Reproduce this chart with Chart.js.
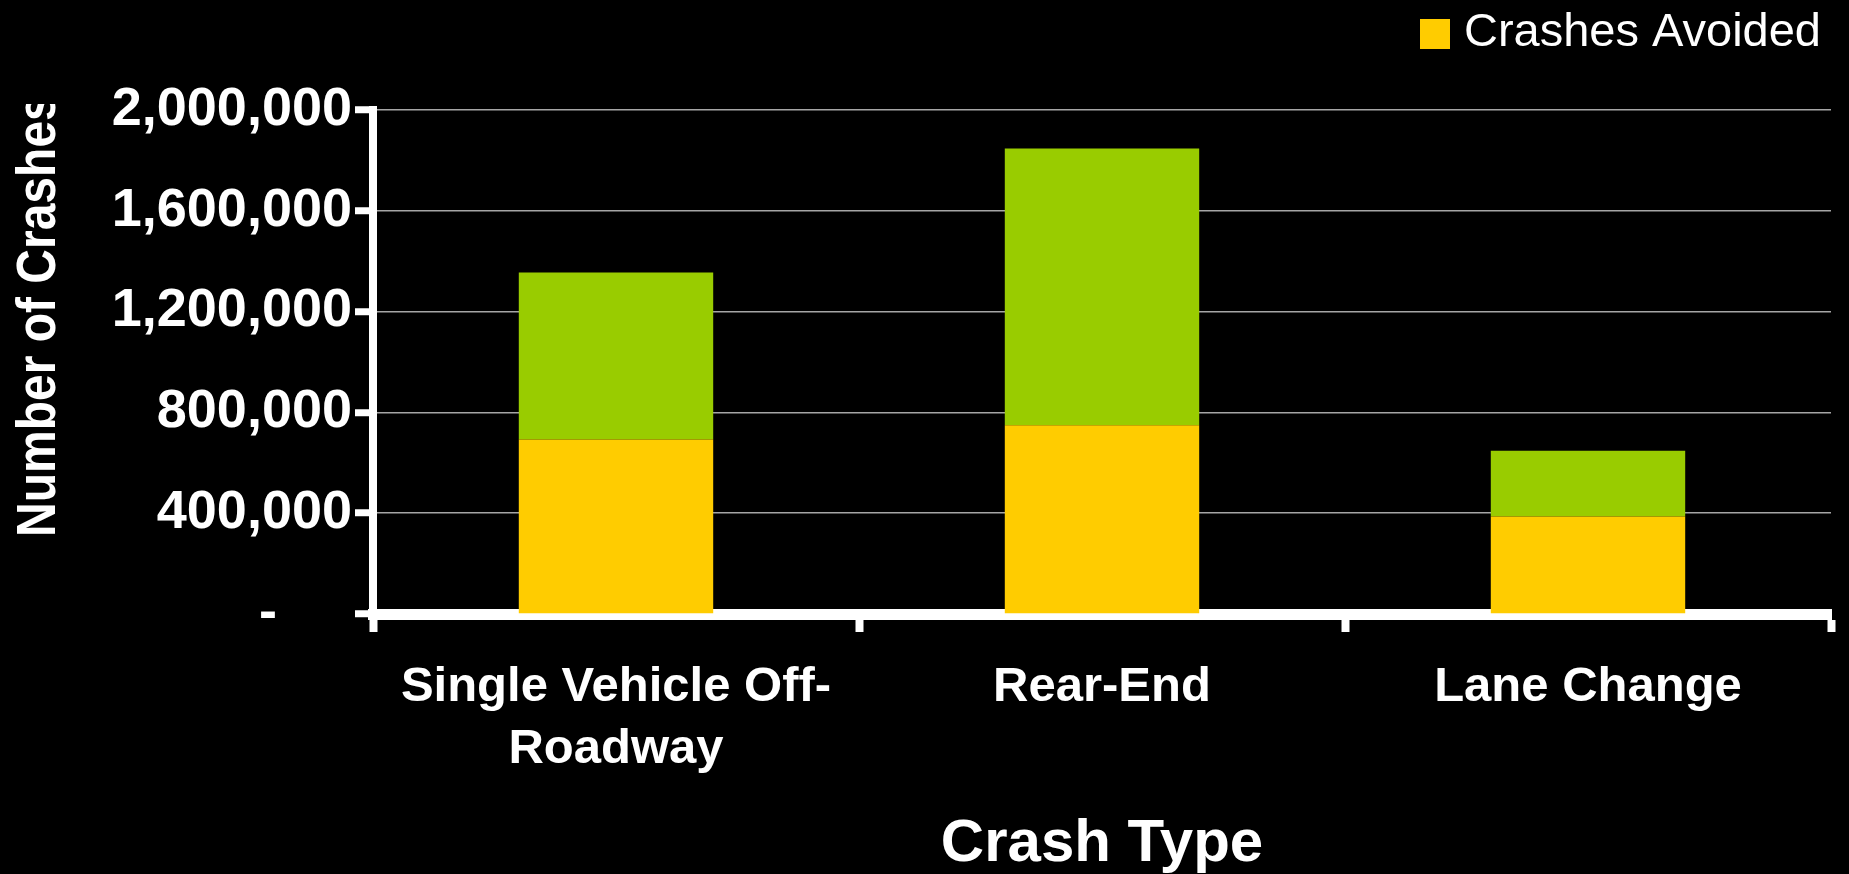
<!DOCTYPE html>
<html>
<head>
<meta charset="utf-8">
<title>Crashes Avoided by Crash Type</title>
<script src="https://cdn.jsdelivr.net/npm/chart.js@4/dist/chart.umd.min.js"></script>
<style>
  html, body { margin: 0; padding: 0; background: #000; overflow: hidden; }
  #wrap { width: 1849px; height: 874px; position: relative; }
</style>
</head>
<body>
<div id="wrap"><canvas id="chart"></canvas></div>
<script>
// values
const categories = [['Single Vehicle Off-', 'Roadway'], 'Rear-End', 'Lane Change'];
const crashesAvoided = [692000, 749000, 387000];
const crashesRemaining = [663000, 1098000, 261000];
const yTickLabels = ['-     ', '400,000', '800,000', '1,200,000', '1,600,000', '2,000,000'];
const xTitle = 'Crash Type';
const yTitle = 'Number of Crashes';

const FONT = '"Liberation Sans", Arial, Helvetica, sans-serif';
const YELLOW = '#ffcc00';
const GREEN = '#99cc00';

// legend square, drawn as a point style so it sits close to its text
const swatch = document.createElement('canvas');
swatch.width = 30;
swatch.height = 30;
const sctx = swatch.getContext('2d');
sctx.fillStyle = YELLOW;
sctx.fillRect(0, 0, 30, 30);

// push the plot area down below the legend
const legendSpacer = {
    id: 'legendSpacer',
    beforeInit(chart) {
        const fit = chart.legend.fit;
        chart.legend.fit = function () {
            fit.call(this);
            this.height += 43;
        };
    }
};

// y title is cut off at the top in the original, so draw it clipped
const yTitlePlugin = {
    id: 'yTitlePlugin',
    afterDraw(chart) {
        const ctx = chart.ctx;
        ctx.save();
        ctx.beginPath();
        ctx.rect(0, 104, 120, chart.height - 104);
        ctx.clip();
        ctx.translate(55, 537);
        ctx.rotate(-Math.PI / 2);
        ctx.scale(1, 1.15);
        ctx.font = 'bold 48px ' + FONT;
        ctx.fillStyle = '#ffffff';
        ctx.textAlign = 'left';
        ctx.textBaseline = 'alphabetic';
        ctx.fillText(yTitle, 0, 0);
        ctx.restore();
    }
};

const ctx = document.getElementById('chart').getContext('2d');

new Chart(ctx, {
    type: 'bar',
    data: {
        labels: categories,
        datasets: [{
            label: 'Crashes Avoided',
            data: crashesAvoided,
            backgroundColor: YELLOW,
            borderWidth: 0
        }, {
            label: 'Crashes Remaining',
            data: crashesRemaining,
            backgroundColor: GREEN,
            borderWidth: 0
        }]
    },
    options: {
        responsive: true,
        maintainAspectRatio: false,
        animation: false,
        barPercentage: 0.4,
        categoryPercentage: 1,
        layout: {
            padding: { top: 0, right: 18, bottom: 0, left: 0 }
        },
        plugins: {
            legend: {
                display: true,
                position: 'top',
                align: 'end',
                labels: {
                    color: '#ffffff',
                    font: { family: FONT, size: 47 },
                    usePointStyle: true,
                    pointStyle: swatch,
                    pointStyleWidth: 10,
                    boxHeight: 30,
                    padding: 10,
                    filter: (item) => item.datasetIndex === 0
                }
            },
            tooltip: { enabled: false }
        },
        scales: {
            x: {
                stacked: true,
                z: 1,
                afterFit: (scale) => { scale.height = 260; },
                grid: {
                    display: true,
                    offset: true,
                    drawOnChartArea: false,
                    drawTicks: true,
                    tickLength: 18,
                    tickColor: '#ffffff',
                    tickWidth: 8
                },
                border: { display: true, color: '#ffffff', width: 11 },
                ticks: {
                    color: '#ffffff',
                    padding: 24,
                    maxRotation: 0,
                    autoSkip: false,
                    font: { family: FONT, size: 49, weight: 'bold', lineHeight: 62 / 49 }
                },
                title: {
                    display: true,
                    text: xTitle,
                    color: '#ffffff',
                    font: { family: FONT, size: 60, weight: 'bold', lineHeight: 1 },
                    padding: { top: 0, bottom: 0 }
                }
            },
            y: {
                stacked: true,
                min: 0,
                max: 2000000,
                afterFit: (scale) => { scale.width = 373; },
                grid: {
                    color: '#a6a6a6',
                    lineWidth: 1.5,
                    drawTicks: true,
                    tickLength: 18,
                    tickColor: '#ffffff',
                    tickWidth: 7
                },
                border: { display: true, color: '#ffffff', width: 8 },
                ticks: {
                    stepSize: 400000,
                    color: '#ffffff',
                    padding: 3,
                    font: { family: FONT, size: 54, weight: 'bold' },
                    callback: (value, index) => yTickLabels[index]
                }
            }
        }
    },
    plugins: [legendSpacer, yTitlePlugin]
});
</script>
</body>
</html>
